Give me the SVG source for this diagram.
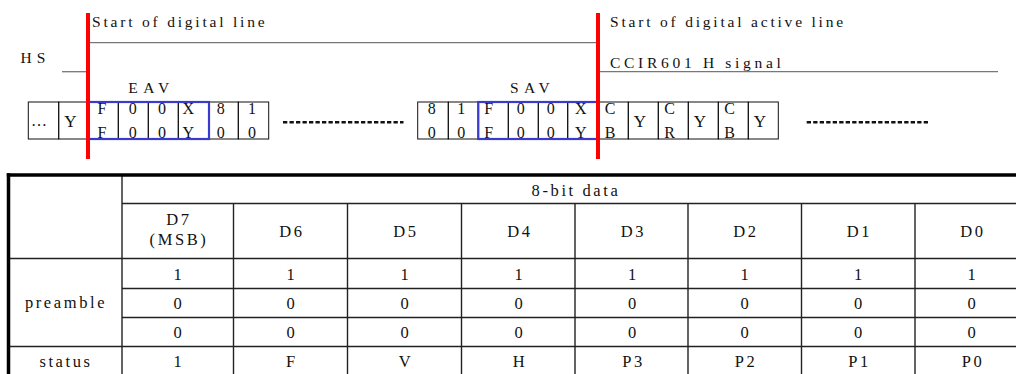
<svg xmlns="http://www.w3.org/2000/svg" width="1016" height="374" viewBox="0 0 1016 374">
<style>
.lbl{font-family:"Liberation Serif",serif;font-size:15.5px;fill:#111;letter-spacing:2.8px}
.cell{font-family:"Liberation Serif",serif;font-size:16px;fill:#111;text-anchor:middle}
.big{font-size:17px}
.tt{font-family:"Liberation Serif",serif;font-size:16.5px;fill:#111;text-anchor:middle;letter-spacing:2.6px}
.box{fill:none;stroke:#111;stroke-width:1}
.blue{fill:none;stroke:#3a3acc;stroke-width:2.2}
.sig{stroke:#777;stroke-width:1.3;fill:none}
.red{stroke:#ff0000;stroke-width:4}
.dots{stroke:#111;stroke-width:2.6;stroke-dasharray:4.3 2.2}
.thick{stroke:#000;stroke-width:3.5}
.grid{stroke:#222;stroke-width:1.4}
</style>
<g id="signals">
<line class="sig" x1="90" y1="42.7" x2="597" y2="42.7"/>
<line class="sig" x1="62" y1="71.7" x2="87" y2="71.7"/>
<line class="sig" x1="600" y1="71.7" x2="998" y2="71.7"/>
<text class="lbl" x="92" y="26.5">Start of digital line</text>
<text class="lbl" x="20.5" y="63" style="letter-spacing:5px">HS</text>
<text class="lbl" x="610" y="26.5">Start of digital active line</text>
<text class="lbl" x="610" y="67.5" style="letter-spacing:3.7px">CCIR601 H signal</text>
<text class="lbl" x="128.3" y="93.3" style="letter-spacing:5.5px">EAV</text>
<text class="lbl" x="510" y="93.3" style="letter-spacing:5.3px">SAV</text>
</g>
<g id="eav-stream">
<rect class="box" x="28.3" y="102" width="30.4" height="37"/>
<rect class="box" x="58.7" y="102" width="29" height="37"/>
<rect class="box" x="87.7" y="102" width="30.6" height="37"/>
<rect class="box" x="118.3" y="102" width="30" height="37"/>
<rect class="box" x="148.3" y="102" width="30" height="37"/>
<rect class="box" x="178.3" y="102" width="30.7" height="37"/>
<rect class="box" x="209" y="102" width="29.3" height="37"/>
<rect class="box" x="238.3" y="102" width="30.4" height="37"/>
<text class="cell" x="39" y="126">…</text>
<text class="cell big" x="70.5" y="126.5">Y</text>
<text class="cell" x="102" y="114">F</text><text class="cell" x="102" y="137.5">F</text>
<text class="cell" x="132.7" y="114">0</text><text class="cell" x="132.7" y="137.5">0</text>
<text class="cell" x="162" y="114">0</text><text class="cell" x="162" y="137.5">0</text>
<text class="cell" x="188.3" y="114">X</text><text class="cell" x="188.3" y="137.5">Y</text>
<text class="cell" x="220.7" y="114">8</text><text class="cell" x="220.7" y="137.5">0</text>
<text class="cell" x="252" y="114">1</text><text class="cell" x="252" y="137.5">0</text>
<rect class="blue" x="88" y="102" width="121" height="37"/>
</g>
<g id="sav-stream">
<rect class="box" x="417.7" y="102" width="30.6" height="37"/>
<rect class="box" x="448.3" y="102" width="30" height="37"/>
<rect class="box" x="478.3" y="102" width="30" height="37"/>
<rect class="box" x="508.3" y="102" width="30" height="37"/>
<rect class="box" x="538.3" y="102" width="29.4" height="37"/>
<rect class="box" x="567.7" y="102" width="30.6" height="37"/>
<rect class="box" x="598.3" y="102" width="30" height="37"/>
<rect class="box" x="628.3" y="102" width="30" height="37"/>
<rect class="box" x="658.3" y="102" width="30" height="37"/>
<rect class="box" x="688.3" y="102" width="30" height="37"/>
<rect class="box" x="718.3" y="102" width="30" height="37"/>
<rect class="box" x="748.3" y="102" width="30" height="37"/>
<text class="cell" x="431.7" y="114">8</text><text class="cell" x="431.7" y="137.5">0</text>
<text class="cell" x="461.3" y="114">1</text><text class="cell" x="461.3" y="137.5">0</text>
<text class="cell" x="488.8" y="114">F</text><text class="cell" x="488.8" y="137.5">F</text>
<text class="cell" x="520.8" y="114">0</text><text class="cell" x="520.8" y="137.5">0</text>
<text class="cell" x="550.8" y="114">0</text><text class="cell" x="550.8" y="137.5">0</text>
<text class="cell" x="580.8" y="114">X</text><text class="cell" x="580.8" y="137.5">Y</text>
<text class="cell" x="610" y="114">C</text><text class="cell" x="610" y="137.5">B</text>
<text class="cell big" x="640" y="126.5">Y</text>
<text class="cell" x="669.5" y="114">C</text><text class="cell" x="669.5" y="137.5">R</text>
<text class="cell big" x="700" y="126.5">Y</text>
<text class="cell" x="729.5" y="114">C</text><text class="cell" x="729.5" y="137.5">B</text>
<text class="cell big" x="760" y="126.5">Y</text>
<rect class="blue" x="478.3" y="102" width="120" height="37"/>
</g>
<g id="connectors">
<line class="dots" x1="283" y1="122.3" x2="403.5" y2="122.3"/>
<line class="dots" x1="806.7" y1="122.3" x2="929" y2="122.3"/>
<line class="red" x1="88" y1="13" x2="88" y2="159"/>
<line class="red" x1="598" y1="13" x2="598" y2="159"/>
</g>
<g id="table">
<line class="grid" x1="122" y1="203.5" x2="1016" y2="203.5"/>
<line class="grid" x1="8.5" y1="258.5" x2="1016" y2="258.5"/>
<line class="grid" x1="122" y1="288.5" x2="1016" y2="288.5"/>
<line class="grid" x1="122" y1="317.5" x2="1016" y2="317.5"/>
<line class="grid" x1="8.5" y1="346.5" x2="1016" y2="346.5"/>
<line class="grid" x1="122" y1="175" x2="122" y2="374"/>
<line class="grid" x1="233.5" y1="203.5" x2="233.5" y2="374"/>
<line class="grid" x1="347.5" y1="203.5" x2="347.5" y2="374"/>
<line class="grid" x1="461.5" y1="203.5" x2="461.5" y2="374"/>
<line class="grid" x1="575" y1="203.5" x2="575" y2="374"/>
<line class="grid" x1="688" y1="203.5" x2="688" y2="374"/>
<line class="grid" x1="801.5" y1="203.5" x2="801.5" y2="374"/>
<line class="grid" x1="915" y1="203.5" x2="915" y2="374"/>
<line class="thick" x1="6.8" y1="175" x2="1016" y2="175"/>
<line class="thick" x1="8.5" y1="173.3" x2="8.5" y2="374"/>
<text class="tt" x="576" y="196">8-bit data</text>
<text class="tt" x="179" y="225">D7</text>
<text class="tt" x="179" y="245">(MSB)</text>
<text class="tt" x="292" y="236.7">D6</text>
<text class="tt" x="406" y="236.7">D5</text>
<text class="tt" x="520" y="236.7">D4</text>
<text class="tt" x="633.5" y="236.7">D3</text>
<text class="tt" x="746" y="236.7">D2</text>
<text class="tt" x="859.5" y="236.7">D1</text>
<text class="tt" x="973" y="236.7">D0</text>
<text class="tt" x="66" y="308">preamble</text>
<text class="tt" x="66" y="366.7">status</text>
<g class="row1">
<text class="tt" x="179" y="280">1</text><text class="tt" x="292" y="280">1</text><text class="tt" x="406" y="280">1</text><text class="tt" x="520" y="280">1</text><text class="tt" x="633.5" y="280">1</text><text class="tt" x="746" y="280">1</text><text class="tt" x="859.5" y="280">1</text><text class="tt" x="973" y="280">1</text>
</g>
<g class="row2">
<text class="tt" x="179" y="308.5">0</text><text class="tt" x="292" y="308.5">0</text><text class="tt" x="406" y="308.5">0</text><text class="tt" x="520" y="308.5">0</text><text class="tt" x="633.5" y="308.5">0</text><text class="tt" x="746" y="308.5">0</text><text class="tt" x="859.5" y="308.5">0</text><text class="tt" x="973" y="308.5">0</text>
</g>
<g class="row3">
<text class="tt" x="179" y="337.5">0</text><text class="tt" x="292" y="337.5">0</text><text class="tt" x="406" y="337.5">0</text><text class="tt" x="520" y="337.5">0</text><text class="tt" x="633.5" y="337.5">0</text><text class="tt" x="746" y="337.5">0</text><text class="tt" x="859.5" y="337.5">0</text><text class="tt" x="973" y="337.5">0</text>
</g>
<g class="row4">
<text class="tt" x="179" y="366.7">1</text><text class="tt" x="292" y="366.7">F</text><text class="tt" x="406" y="366.7">V</text><text class="tt" x="520" y="366.7">H</text><text class="tt" x="633.5" y="366.7">P3</text><text class="tt" x="746" y="366.7">P2</text><text class="tt" x="859.5" y="366.7">P1</text><text class="tt" x="973" y="366.7">P0</text>
</g>
</g>
</svg>
